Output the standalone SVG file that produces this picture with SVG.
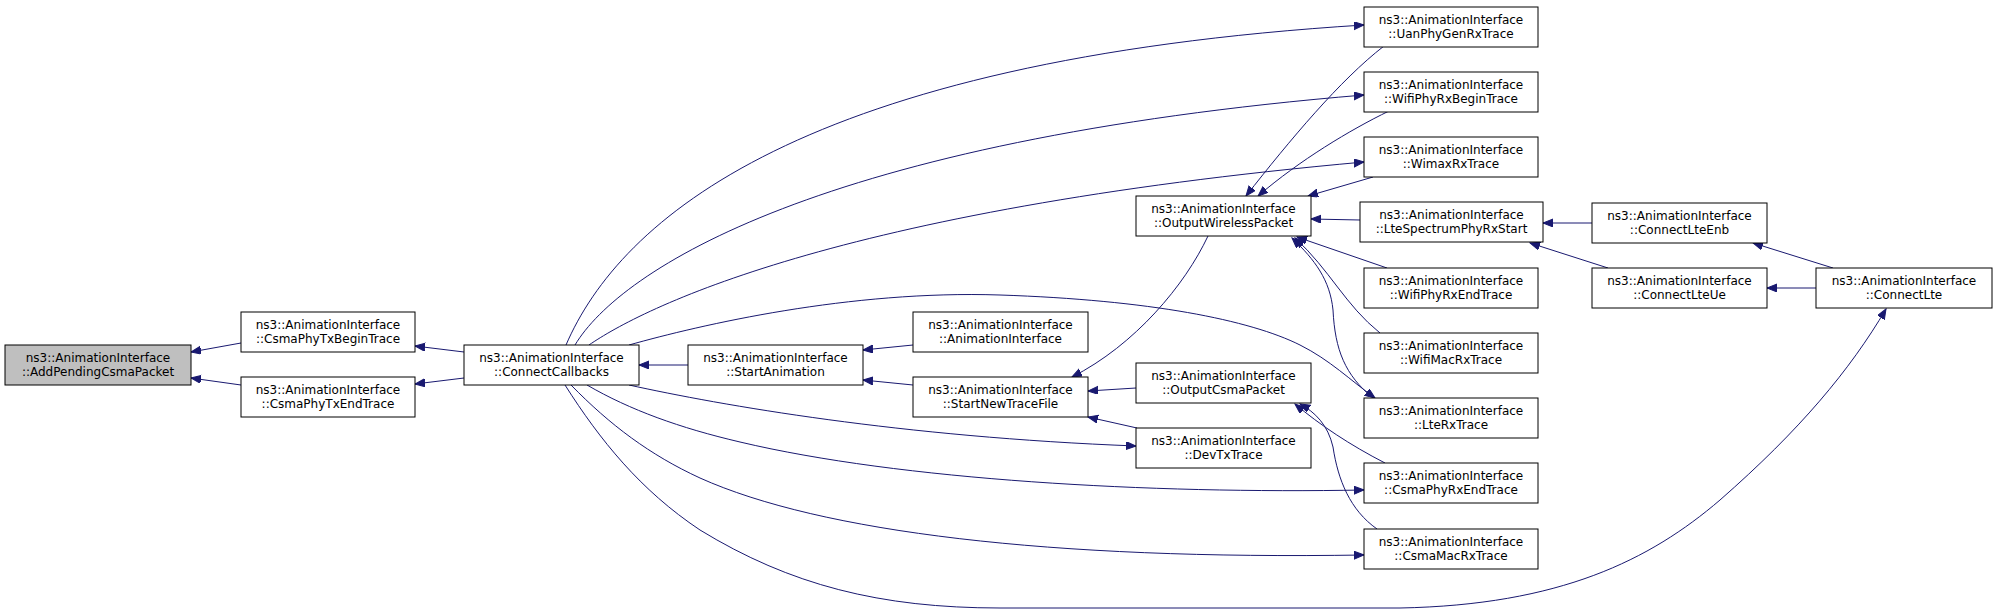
<svg xmlns="http://www.w3.org/2000/svg" width="1997" height="613" viewBox="0 0 1997 613">
<style>
.box{fill:#ffffff;stroke:#000000;stroke-width:1}
.hl{fill:#bfbfbf}
.t{font-family:"DejaVu Sans",sans-serif;font-size:12px;fill:#000000;text-anchor:middle}
.e{fill:none;stroke:#191970;stroke-width:1;marker-end:url(#ah)}
</style>
<defs>
<marker id="ah" markerUnits="userSpaceOnUse" markerWidth="11" markerHeight="9" refX="10" refY="4" orient="auto">
<path d="M0,0 L10,4 L0,8 z" fill="#191970" stroke="#191970" stroke-width="1"/>
</marker>
</defs>
<rect width="1997" height="613" fill="#ffffff"/>
<g id="edges">
<path class="e" d="M241,343 L191,352"/>
<path class="e" d="M241,385 L191,378"/>
<path class="e" d="M464,352 L415,346"/>
<path class="e" d="M464,378 L415,384"/>
<path class="e" d="M688,365 L639,365"/>
<path class="e" d="M913,345 L863,350"/>
<path class="e" d="M913,385 L863,380"/>
<path class="e" d="M1208,236 C1185,285 1135,345 1072,377"/>
<path class="e" d="M1136,388 L1088,391"/>
<path class="e" d="M1137,428 L1088,417"/>
<path class="e" d="M629,385 C720,405 900,437 1136,446"/>
<path class="e" d="M566,345 C620,220 800,60 1364,25"/>
<path class="e" d="M575,345 C620,270 820,140 1364,95"/>
<path class="e" d="M589,345 C640,310 830,210 1364,162"/>
<path class="e" d="M629,345 C700,325 850,290 1000,295 C1150,300 1250,320 1300,345 C1330,360 1350,380 1375,398"/>
<path class="e" d="M587,385 C630,410 680,428 740,442 C900,480 1150,494 1364,490"/>
<path class="e" d="M571,385 C610,425 650,455 700,478 C820,532 1050,560 1364,555"/>
<path class="e" d="M565,385 C600,440 640,490 700,530 C790,585 880,608 1000,608 L1400,608 C1560,605 1650,560 1720,500 C1800,430 1850,370 1886,309"/>
<path class="e" d="M1384,46 C1340,80 1290,140 1246,196"/>
<path class="e" d="M1389,111 C1350,130 1300,160 1258,196"/>
<path class="e" d="M1373,177 L1308,196"/>
<path class="e" d="M1360,220 L1311,219"/>
<path class="e" d="M1387,268 L1297,237"/>
<path class="e" d="M1380,333 C1345,305 1330,270 1295,238"/>
<path class="e" d="M1373,398 C1345,375 1335,350 1333,310 C1330,280 1315,260 1292,238"/>
<path class="e" d="M1385,463 C1350,445 1320,425 1295,404"/>
<path class="e" d="M1377,529 C1350,510 1338,480 1333,447 C1328,425 1315,412 1300,404"/>
<path class="e" d="M1592,223 L1543,223"/>
<path class="e" d="M1608,268 L1530,243"/>
<path class="e" d="M1833,268 L1753,243"/>
<path class="e" d="M1816,288 L1767,288"/>
</g>
<g id="n_AddPendingCsmaPacket"><rect class="box hl" x="5" y="345" width="186" height="40"/><text class="t" x="98" y="362">ns3::AnimationInterface</text><text class="t" x="98" y="376">::AddPendingCsmaPacket</text></g>
<g id="n_CsmaPhyTxBeginTrace"><rect class="box" x="241" y="312" width="174" height="40"/><text class="t" x="328" y="329">ns3::AnimationInterface</text><text class="t" x="328" y="343">::CsmaPhyTxBeginTrace</text></g>
<g id="n_CsmaPhyTxEndTrace"><rect class="box" x="241" y="377" width="174" height="40"/><text class="t" x="328" y="394">ns3::AnimationInterface</text><text class="t" x="328" y="408">::CsmaPhyTxEndTrace</text></g>
<g id="n_ConnectCallbacks"><rect class="box" x="464" y="345" width="175" height="40"/><text class="t" x="551.5" y="362">ns3::AnimationInterface</text><text class="t" x="551.5" y="376">::ConnectCallbacks</text></g>
<g id="n_StartAnimation"><rect class="box" x="688" y="345" width="175" height="40"/><text class="t" x="775.5" y="362">ns3::AnimationInterface</text><text class="t" x="775.5" y="376">::StartAnimation</text></g>
<g id="n_AnimationInterface"><rect class="box" x="913" y="312" width="175" height="40"/><text class="t" x="1000.5" y="329">ns3::AnimationInterface</text><text class="t" x="1000.5" y="343">::AnimationInterface</text></g>
<g id="n_StartNewTraceFile"><rect class="box" x="913" y="377" width="175" height="40"/><text class="t" x="1000.5" y="394">ns3::AnimationInterface</text><text class="t" x="1000.5" y="408">::StartNewTraceFile</text></g>
<g id="n_OutputWirelessPacket"><rect class="box" x="1136" y="196" width="175" height="40"/><text class="t" x="1223.5" y="213">ns3::AnimationInterface</text><text class="t" x="1223.5" y="227">::OutputWirelessPacket</text></g>
<g id="n_OutputCsmaPacket"><rect class="box" x="1136" y="363" width="175" height="40"/><text class="t" x="1223.5" y="380">ns3::AnimationInterface</text><text class="t" x="1223.5" y="394">::OutputCsmaPacket</text></g>
<g id="n_DevTxTrace"><rect class="box" x="1136" y="428" width="175" height="40"/><text class="t" x="1223.5" y="445">ns3::AnimationInterface</text><text class="t" x="1223.5" y="459">::DevTxTrace</text></g>
<g id="n_UanPhyGenRxTrace"><rect class="box" x="1364" y="7" width="174" height="40"/><text class="t" x="1451" y="24">ns3::AnimationInterface</text><text class="t" x="1451" y="38">::UanPhyGenRxTrace</text></g>
<g id="n_WifiPhyRxBeginTrace"><rect class="box" x="1364" y="72" width="174" height="40"/><text class="t" x="1451" y="89">ns3::AnimationInterface</text><text class="t" x="1451" y="103">::WifiPhyRxBeginTrace</text></g>
<g id="n_WimaxRxTrace"><rect class="box" x="1364" y="137" width="174" height="40"/><text class="t" x="1451" y="154">ns3::AnimationInterface</text><text class="t" x="1451" y="168">::WimaxRxTrace</text></g>
<g id="n_LteSpectrumPhyRxStart"><rect class="box" x="1360" y="202" width="183" height="40"/><text class="t" x="1451.5" y="219">ns3::AnimationInterface</text><text class="t" x="1451.5" y="233">::LteSpectrumPhyRxStart</text></g>
<g id="n_WifiPhyRxEndTrace"><rect class="box" x="1364" y="268" width="174" height="40"/><text class="t" x="1451" y="285">ns3::AnimationInterface</text><text class="t" x="1451" y="299">::WifiPhyRxEndTrace</text></g>
<g id="n_WifiMacRxTrace"><rect class="box" x="1364" y="333" width="174" height="40"/><text class="t" x="1451" y="350">ns3::AnimationInterface</text><text class="t" x="1451" y="364">::WifiMacRxTrace</text></g>
<g id="n_LteRxTrace"><rect class="box" x="1364" y="398" width="174" height="40"/><text class="t" x="1451" y="415">ns3::AnimationInterface</text><text class="t" x="1451" y="429">::LteRxTrace</text></g>
<g id="n_CsmaPhyRxEndTrace"><rect class="box" x="1364" y="463" width="174" height="40"/><text class="t" x="1451" y="480">ns3::AnimationInterface</text><text class="t" x="1451" y="494">::CsmaPhyRxEndTrace</text></g>
<g id="n_CsmaMacRxTrace"><rect class="box" x="1364" y="529" width="174" height="40"/><text class="t" x="1451" y="546">ns3::AnimationInterface</text><text class="t" x="1451" y="560">::CsmaMacRxTrace</text></g>
<g id="n_ConnectLteEnb"><rect class="box" x="1592" y="203" width="175" height="40"/><text class="t" x="1679.5" y="220">ns3::AnimationInterface</text><text class="t" x="1679.5" y="234">::ConnectLteEnb</text></g>
<g id="n_ConnectLteUe"><rect class="box" x="1592" y="268" width="175" height="40"/><text class="t" x="1679.5" y="285">ns3::AnimationInterface</text><text class="t" x="1679.5" y="299">::ConnectLteUe</text></g>
<g id="n_ConnectLte"><rect class="box" x="1816" y="268" width="176" height="40"/><text class="t" x="1904" y="285">ns3::AnimationInterface</text><text class="t" x="1904" y="299">::ConnectLte</text></g>
</svg>
